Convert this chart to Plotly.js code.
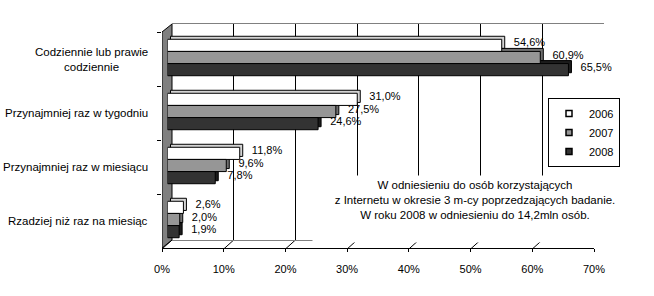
<!DOCTYPE html>
<html>
<head>
<meta charset="utf-8">
<script src="https://cdn.plot.ly/plotly-3.0.1.min.js"></script>
<style>html,body{margin:0;padding:0;background:#fff;}</style>
</head>
<body>
<div id="chart" style="width:654px;height:296px;"></div>
<script>
// ---- data ----
const categories = [
  'Codziennie lub prawie codziennie',
  'Przynajmniej raz w tygodniu',
  'Przynajmniej raz w miesiącu',
  'Rzadziej niż raz na miesiąc'
];
const categoryLabels = [
  'Codziennie lub prawie<br>codziennie',
  'Przynajmniej raz w tygodniu',
  'Przynajmniej raz w miesiącu',
  'Rzadziej niż raz na miesiąc'
];
const seriesNames = ['2006', '2007', '2008'];
const values2006 = [54.6, 31.0, 11.8, 2.6];
const values2007 = [60.9, 27.5, 9.6, 2.0];
const values2008 = [65.5, 24.6, 7.8, 1.9];
const tickValues = [0, 10, 20, 30, 40, 50, 60, 70];
const tickLabels = ['0%', '10%', '20%', '30%', '40%', '50%', '60%', '70%'];
const noteLines = [
  'W odniesieniu do osób korzystających',
  'z Internetu w okresie 3 m-cy poprzedzających badanie.',
  'W roku 2008 w odniesieniu do 14,2mln osób.'
];

// ---- style ----
const FONT = 'Liberation Sans, Arial, sans-serif';
const frontColors = ['#ffffff', '#969696', '#333333'];
const sideColors = ['#d4d4d4', '#707070', '#1c1c1c'];
const allValues = [values2006, values2007, values2008];
const W = 0.225;             // bar thickness (category units)
const offsets = [-1.5 * W, -0.5 * W, 0.5 * W];
const depthUp = 3 / 54;      // 3px upward in category units
const depthRight = 3 / 6.12; // 3px to the right in value units

const traces = [];
// dummy trace so the back-wall subplot is built
traces.push({type: 'scatter', mode: 'markers', xaxis: 'x', yaxis: 'y',
  x: [null], y: [null], showlegend: false, hoverinfo: 'skip'});
// depth (top/right faces) drawn first, with value labels
allValues.forEach((vals, i) => {
  traces.push({
    type: 'bar', orientation: 'h', xaxis: 'x3', yaxis: 'y3',
    x: vals, y: categories, base: depthRight,
    width: W, offset: offsets[i] - depthUp,
    marker: {color: sideColors[i], line: {color: '#000', width: 1}},
    texttemplate: '\u00a0\u00a0%{x:.1f}%', textposition: 'outside', constraintext: 'none',
    cliponaxis: false, textfont: {family: FONT, size: 11, color: '#000'},
    showlegend: false, hoverinfo: 'skip'
  });
});
// front faces
allValues.forEach((vals, i) => {
  traces.push({
    type: 'bar', orientation: 'h', xaxis: 'x3', yaxis: 'y3',
    x: vals, y: categories, name: seriesNames[i],
    width: W, offset: offsets[i],
    marker: {color: frontColors[i], line: {color: '#000', width: 1}},
    textposition: 'none', showlegend: false
  });
});
// legend entries
seriesNames.forEach((n, i) => {
  traces.push({
    type: 'scatter', mode: 'markers', xaxis: 'x2', yaxis: 'y2',
    x: [null], y: [null], name: n,
    marker: {symbol: 'square', size: 6, color: frontColors[i], line: {color: '#000', width: 1.5}},
    showlegend: true, hoverinfo: 'skip'
  });
});

const shapes = [];
// left wall
shapes.push({
  type: 'path', layer: 'below',
  xref: 'x2', xsizemode: 'pixel', xanchor: 0,
  yref: 'paper', ysizemode: 'pixel', yanchor: 0,
  path: 'M0,0L0,216L10,224L10,8Z',
  fillcolor: '#808080', line: {color: '#000', width: 1}
});
// floor diagonals
tickValues.forEach(t => {
  shapes.push({
    type: 'line', layer: 'below',
    xref: 'x2', xsizemode: 'pixel', xanchor: t, x0: 0, x1: 10,
    yref: 'paper', ysizemode: 'pixel', yanchor: 0, y0: -1, y1: 8,
    line: {color: '#000', width: 1}
  });
});

const annotations = categoryLabels.map((lab, i) => ({
  xref: 'paper', x: 0, xanchor: 'right', xshift: -12,
  yref: 'y2', y: categories[i], yanchor: 'middle',
  text: lab, align: 'center', showarrow: false,
  font: {family: FONT, size: 11.5, color: '#000'}
}));
annotations.push({
  xref: 'paper', x: (475 - 162) / 442, xanchor: 'center',
  yref: 'paper', y: (248 - 209) / 224, yanchor: 'middle',
  text: noteLines.join('<br>'), align: 'center', showarrow: false,
  width: 318, height: 60, valign: 'top', borderpad: 3,
  bgcolor: '#ffffff',
  font: {family: FONT, size: 11.5, color: '#000'}
});

const layout = {
  width: 654, height: 296,
  margin: {l: 162, r: 50, t: 24, b: 48, pad: 0},
  paper_bgcolor: '#ffffff', plot_bgcolor: 'rgba(0,0,0,0)',
  barmode: 'overlay', separators: ',.',
  font: {family: FONT, size: 11, color: '#000'},
  showlegend: true,
  legend: {
    x: (548 - 162) / 442, y: (248 - 98) / 224, xanchor: 'left', yanchor: 'top',
    bordercolor: '#000', borderwidth: 1, bgcolor: 'rgba(0,0,0,0)',
    font: {family: FONT, size: 11, color: '#000'}, tracegroupgap: 0
  },
  // back wall
  xaxis: {domain: [10 / 442, 1], range: [0, 70], anchor: 'y',
    tickmode: 'array', tickvals: tickValues,
    showgrid: true, gridcolor: '#000', gridwidth: 1, zeroline: false,
    showline: true, mirror: true, linecolor: '#808080', linewidth: 1,
    showticklabels: false, ticks: '', fixedrange: true},
  yaxis: {domain: [8 / 224, 1], range: [0, 1], anchor: 'x', showgrid: false,
    zeroline: false, showticklabels: false, showline: false, ticks: '', fixedrange: true},
  // front plane
  xaxis2: {domain: [0, 432 / 442], range: [0, 70], anchor: 'y2',
    tickmode: 'array', tickvals: tickValues, ticktext: tickLabels,
    ticks: 'outside', ticklen: 3, tickcolor: '#000',
    showline: true, linecolor: '#000', linewidth: 1, showgrid: false, zeroline: false,
    ticklabelstandoff: 8, tickfont: {family: FONT, size: 11, color: '#000'}, fixedrange: true},
  yaxis2: {domain: [0, 216 / 224], type: 'category', categoryorder: 'array',
    categoryarray: categories, range: [3.5, -0.5], anchor: 'x2',
    ticks: 'outside', tickson: 'boundaries', ticklen: 4, tickcolor: '#000',
    showticklabels: false, showgrid: false, zeroline: false, showline: false, fixedrange: true},
  // bars plane
  xaxis3: {domain: [5.5 / 442, 434 / 442], range: [0, 70], anchor: 'y3', visible: false, fixedrange: true},
  yaxis3: {domain: [1.5 / 224, 217.5 / 224], type: 'category', categoryorder: 'array',
    categoryarray: categories, autorange: 'reversed', anchor: 'x3', visible: false, fixedrange: true},
  shapes: shapes,
  annotations: annotations
};

Plotly.newPlot('chart', traces, layout, {displayModeBar: false, staticPlot: true});
</script>
</body>
</html>
